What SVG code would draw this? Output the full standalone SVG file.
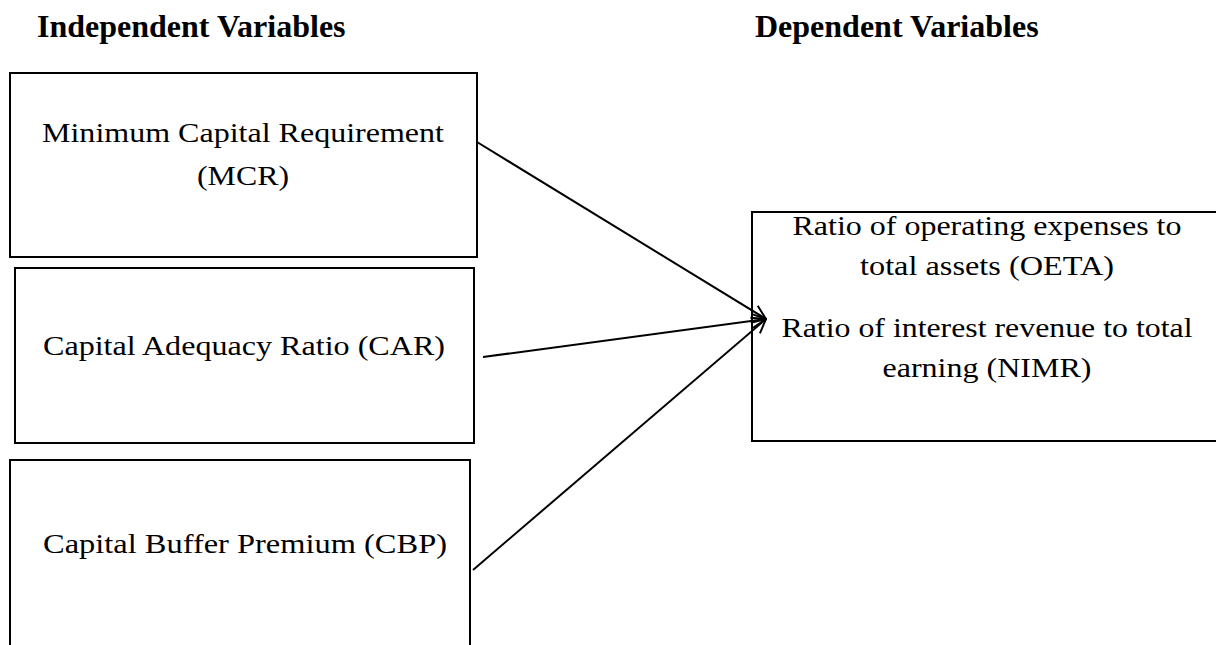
<svg xmlns="http://www.w3.org/2000/svg" width="1216" height="645" viewBox="0 0 1216 645">
<style>
.box{fill:#fff;stroke:#000;stroke-width:2}
.hd{font-family:"Liberation Serif","Times New Roman",serif;font-weight:bold;font-size:32px;fill:#000}
.t{font-family:"Liberation Serif","Times New Roman",serif;font-size:28px;fill:#000;text-anchor:middle}
.ln{stroke:#000;stroke-width:2;fill:none;marker-end:url(#ah)}
</style>
<defs>
<marker id="ah" viewBox="0 0 16 16" refX="15" refY="8" markerWidth="16" markerHeight="16" markerUnits="userSpaceOnUse" orient="auto">
<path d="M1,1 L15,8 L1,15" fill="none" stroke="#000" stroke-width="2"/>
</marker>
</defs>
<rect width="1216" height="645" fill="#fff"/>
<text class="hd" x="37" y="37">Independent Variables</text>
<text class="hd" x="755" y="37">Dependent Variables</text>
<g id="mcr">
<rect class="box" x="10" y="73" width="467" height="184"/>
<text class="t" x="243" y="142" textLength="402" lengthAdjust="spacingAndGlyphs">Minimum Capital Requirement</text>
<text class="t" x="243" y="185" textLength="92" lengthAdjust="spacingAndGlyphs">(MCR)</text>
</g>
<g id="car">
<rect class="box" x="15" y="268" width="459" height="175"/>
<text class="t" x="244" y="355" textLength="402" lengthAdjust="spacingAndGlyphs">Capital Adequacy Ratio (CAR)</text>
</g>
<g id="cbp">
<rect class="box" x="10" y="460" width="460" height="200"/>
<text class="t" x="245" y="553" textLength="404" lengthAdjust="spacingAndGlyphs">Capital Buffer Premium (CBP)</text>
</g>
<g id="dep">
<rect class="box" x="752" y="212" width="480" height="229"/>
<text class="t" x="987" y="235" textLength="389" lengthAdjust="spacingAndGlyphs">Ratio of operating expenses to</text>
<text class="t" x="987" y="275" textLength="254" lengthAdjust="spacingAndGlyphs">total assets (OETA)</text>
<text class="t" x="987" y="337" textLength="411" lengthAdjust="spacingAndGlyphs">Ratio of interest revenue to total</text>
<text class="t" x="987" y="377" textLength="209" lengthAdjust="spacingAndGlyphs">earning (NIMR)</text>
</g>
<g id="connectors">
<line class="ln" x1="477" y1="142" x2="766" y2="319"/>
<line class="ln" x1="483" y1="357" x2="766" y2="319"/>
<line class="ln" x1="473" y1="570" x2="766" y2="319"/>
</g>
</svg>
